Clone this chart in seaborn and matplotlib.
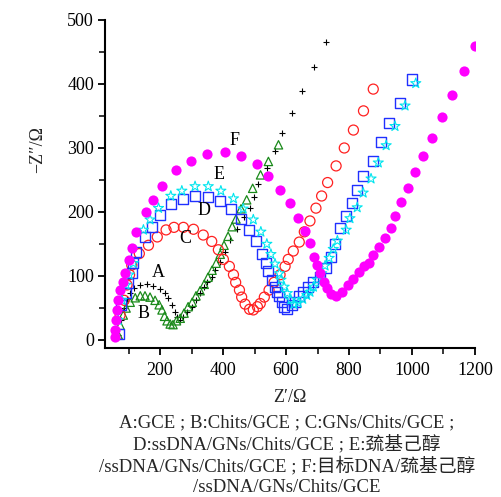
import numpy as np
import pandas as pd
import matplotlib
matplotlib.use("Agg")
import matplotlib.pyplot as plt
import seaborn as sns
from matplotlib.ticker import MultipleLocator

sns.set_theme(style="ticks")
plt.rcParams['font.family'] = ['Liberation Serif', 'Noto Sans CJK SC', 'DejaVu Sans']
plt.rcParams['axes.unicode_minus'] = True

# ---- data (Z' / Ohm, -Z'' / Ohm) ----
A_x = [67, 76, 86, 95, 105, 117, 137, 158, 179, 200, 216, 226, 237, 248, 254, 264, 274, 287, 301,
       314, 327, 340, 350, 364, 375, 391, 406, 422, 444, 467, 486, 498, 512, 539, 565, 587, 619,
       651, 689, 727]
A_y = [8, 31, 50, 64, 73, 81, 86, 87, 84, 79, 73, 65, 55, 44, 36, 31, 36, 44, 52,
       63, 73, 83, 91, 99, 109, 122, 138, 156, 173, 192, 206, 224, 244, 268, 296, 324, 355,
       389, 426, 466]

B_x = [67, 73, 83, 92, 105, 121, 137, 152, 168, 184, 197, 206, 214, 222, 232, 241, 252, 264, 276,
       289, 302, 314, 327, 340, 352, 365, 378, 391, 403, 416, 429, 441, 457, 475, 494, 519, 544, 576]
B_y = [8, 23, 39, 50, 59, 66, 69, 69, 67, 62, 55, 47, 37, 30, 25, 24, 30, 34, 42,
       52, 59, 69, 77, 87, 98, 109, 120, 134, 148, 162, 177, 189, 205, 219, 237, 258, 279, 305]

C_x = [73, 86, 95, 103, 110, 134, 163, 191, 219, 244, 274, 306, 337, 364, 385, 401, 420, 433, 440,
       452, 459, 470, 484, 496, 509, 518, 531, 546, 562, 581, 597, 607, 623, 642, 658, 676, 695,
       713, 732, 759, 785, 814, 846, 877]
C_y = [39, 62, 86, 102, 117, 135, 148, 161, 172, 176, 176, 173, 164, 154, 141, 126, 115, 102, 90,
       78, 67, 56, 48, 47, 52, 57, 67, 78, 90, 102, 115, 126, 139, 153, 169, 186, 206,
       225, 246, 272, 300, 328, 358, 392]

D_x = [68, 75, 92, 99, 110, 115, 123, 152, 174, 200, 235, 272, 311, 353, 391, 425, 456, 482, 504,
       523, 536, 544, 555, 565, 570, 579, 586, 594, 604, 618, 629, 641, 655, 671, 687, 708, 727,
       742, 756, 772, 790, 809, 825, 845, 875, 901, 928, 963, 1001]
D_y = [10, 55, 73, 89, 104, 120, 138, 161, 177, 195, 213, 221, 225, 224, 217, 204, 189, 172, 154,
       135, 121, 108, 94, 83, 75, 68, 60, 52, 49, 54, 60, 68, 75, 83, 91, 98, 112,
       130, 150, 175, 193, 214, 234, 256, 280, 309, 339, 370, 407]

E_x = [67, 79, 92, 102, 115, 147, 168, 195, 234, 269, 311, 353, 393, 433, 464, 496, 520, 539, 552,
       565, 579, 584, 594, 604, 615, 625, 639, 653, 666, 676, 687, 699, 713, 724, 737, 750, 763,
       791, 803, 826, 845, 870, 893, 918, 946, 978, 1012]
E_y = [31, 62, 86, 102, 120, 172, 188, 206, 225, 233, 240, 240, 233, 221, 205, 188, 169, 150, 134,
       119, 104, 94, 83, 73, 63, 56, 58, 64, 70, 75, 83, 94, 104, 116, 128, 142, 155,
       172, 190, 207, 230, 252, 277, 304, 334, 366, 401]

F_x = [57, 57, 60, 63, 67, 73, 83, 89, 100, 112, 124, 155, 179, 206, 251, 297, 350, 406, 457, 507,
       544, 581, 613, 638, 660, 676, 689, 699, 708, 721, 729, 743, 759, 777, 798, 814, 833, 848,
       865, 877, 895, 914, 932, 946, 964, 988, 1010, 1034, 1065, 1096, 1127, 1165, 1201]
F_y = [5, 16, 31, 47, 62, 78, 91, 105, 125, 143, 168, 200, 219, 241, 266, 280, 291, 293, 288, 275,
       257, 235, 214, 190, 170, 151, 130, 117, 105, 91, 81, 72, 68, 75, 86, 96, 107, 115,
       121, 133, 146, 160, 175, 194, 216, 238, 263, 287, 316, 348, 383, 420, 460]

labels = ["A", "B", "C", "D", "E", "F"]
label_x = [194, 146, 279, 340, 387, 435]
label_y = [106, 42, 159, 203, 258, 311]

caption = ["A:GCE ; B:Chits/GCE ; C:GNs/Chits/GCE ;",
           "D:ssDNA/GNs/Chits/GCE ; E:巯基己醇",
           "/ssDNA/GNs/Chits/GCE ; F:目标DNA/巯基己醇",
           "/ssDNA/GNs/Chits/GCE"]

fig = plt.figure(figsize=(5.01, 4.97), dpi=100)
ax = fig.add_axes([0.2096, 0.2998, 0.948 - 0.2096, 0.9598 - 0.2998])

series = [
    (A_x, A_y, "+", "black", 16, True, 0.8),
    (B_x, B_y, "^", "#1a8a1a", 36, False, 0.9),
    (C_x, C_y, "o", "#ff2020", 52, False, 0.9),
    (D_x, D_y, "s", "#2030ff", 52, False, 1.0),
    (E_x, E_y, "*", "#00e5ee", 58, False, 0.8),
    (F_x, F_y, "o", "#ff00ff", 54, True, 0.0),
]
for xs, ys, mk, col, s, filled, lw in series:
    df = pd.DataFrame({"x": xs, "y": ys})
    sns.scatterplot(data=df, x="x", y="y", marker=mk, s=s, color=col, ax=ax,
                    linewidth=lw, legend=False, zorder=3)
    coll = ax.collections[-1]
    if mk == "+":
        coll.set_edgecolor(col)
    elif filled:
        coll.set_facecolor(col)
        coll.set_edgecolor(col)
    else:
        coll.set_facecolor("none")
        coll.set_edgecolor(col)

for t, lx, ly in zip(labels, label_x, label_y):
    ax.text(lx, ly, t, fontsize=13, ha="center", va="center", color="black", zorder=5)

ax.set_xlim(25, 1200)
ax.set_ylim(-12.5, 500)
ax.xaxis.set_major_locator(MultipleLocator(200))
ax.xaxis.set_minor_locator(MultipleLocator(100))
ax.yaxis.set_major_locator(MultipleLocator(100))
ax.yaxis.set_minor_locator(MultipleLocator(50))
ax.set_xticks([200, 400, 600, 800, 1000, 1200])
ax.tick_params(which="major", direction="out", length=5, width=1.3, labelsize=13, pad=3, colors="black")
ax.tick_params(axis="x", which="major", pad=5)
ax.tick_params(which="minor", direction="out", length=4, width=1.3)
for sp in ["top", "right"]:
    ax.spines[sp].set_visible(False)
for sp in ["left", "bottom"]:
    ax.spines[sp].set_linewidth(1.5)
    ax.spines[sp].set_color("black")
ax.set_xlabel("")
ax.set_ylabel("")

fig.text(38 / 501, 1 - 150 / 497, "−Z″/Ω", rotation=90, ha="center", va="center", fontsize=13)
fig.text(290 / 501, 1 - 397 / 497, "Z′/Ω", ha="center", va="center", fontsize=13)
cap_y = [423, 444, 466, 487]
for line, cy in zip(caption, cap_y):
    fig.text(287 / 501, 1 - cy / 497, line, ha="center", va="center", fontsize=13.5)

fig.savefig("out.png", dpi=100)
